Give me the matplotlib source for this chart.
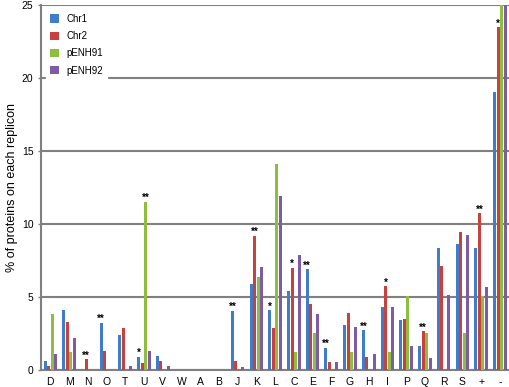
import numpy as np
import matplotlib
matplotlib.use('Agg')
import matplotlib.pyplot as plt

plt.rcParams['font.family'] = ['Liberation Sans', 'DejaVu Sans']

categories = ['D', 'M', 'N', 'O', 'T', 'U', 'V', 'W', 'A', 'B', 'J', 'K', 'L',
              'C', 'E', 'F', 'G', 'H', 'I', 'P', 'Q', 'R', 'S', '+', '-']
series_names = ['Chr1', 'Chr2', 'pENH91', 'pENH92']
chr1 = [0.62, 4.1, 0.0, 3.24, 2.37, 0.91, 0.98, 0, 0, 0, 4.06, 5.87, 4.1,
        5.41, 6.9, 1.53, 3.08, 2.74, 4.34, 3.42, 1.64, 8.33, 8.63, 8.38, 19.07]
chr2 = [0.27, 3.26, 0.73, 1.3, 2.85, 0.46, 0.64, 0, 0, 0, 0.64, 9.2, 2.85,
        7.0, 4.5, 0.52, 3.93, 0.87, 5.75, 3.49, 2.67, 7.15, 9.47, 10.73, 23.5]
penh91 = [3.84, 1.26, 0, 0, 0, 11.53, 0, 0, 0, 0, 0, 6.39, 14.1,
          1.26, 2.56, 0, 1.26, 0, 1.26, 5.09, 2.56, 0, 2.56, 5.09, 25.0]
penh92 = [1.07, 2.17, 0, 0, 0.27, 1.32, 0.27, 0, 0, 0, 0.23, 7.08, 11.94,
          7.88, 3.81, 0.52, 2.97, 1.1, 4.34, 1.64, 0.8, 5.14, 9.25, 5.71, 25.0]
# significance marks: (category, series index, text)
marks = [('N', 1, '**'), ('O', 0, '**'), ('U', 0, '*'), ('U', 2, '**'),
         ('J', 0, '**'), ('K', 1, '**'), ('L', 0, '*'), ('C', 1, '*'),
         ('E', 0, '**'), ('F', 0, '**'), ('H', 0, '**'), ('I', 1, '*'),
         ('Q', 1, '**'), ('+', 1, '**'), ('-', 1, '*')]

colors = ['#3F7DCB', '#C9413D', '#8DBE3F', '#7D5BA6']

fig = plt.figure(figsize=(5.1, 3.87), dpi=100)
ax = fig.add_axes([0.0804, 0.0439, 0.918, 0.943])

x = np.arange(len(categories))
step = 0.19
width = 0.16
data = [chr1, chr2, penh91, penh92]
for i, (vals, name, c) in enumerate(zip(data, series_names, colors)):
    ax.bar(x + (i - 1.5) * step, vals, width, color=c, label=name, zorder=3)

for cat, si, txt in marks:
    ci = categories.index(cat)
    ax.text(ci + (si - 1.5) * step, data[si][ci] - 0.1, txt, ha='center',
            va='bottom', fontsize=7, fontweight='bold', zorder=4)

ax.set_xlim(-0.5, len(categories) - 0.5)
ax.set_ylim(0, 25)
ax.set_yticks([0, 5, 10, 15, 20, 25])
ax.set_xticks(x)
ax.set_xticklabels(categories, fontsize=7.5)
ax.tick_params(axis='y', labelsize=7.5, length=2.5, width=1, color='#808080', pad=3)
ax.tick_params(axis='x', length=0, pad=5)
ax.grid(axis='y', color='#808080', linewidth=1.5, zorder=0)
for s in ['right', 'top']:
    ax.spines[s].set_visible(False)
ax.spines['left'].set_color('#808080')
ax.spines['left'].set_linewidth(1.5)
ax.spines['bottom'].set_color('#808080')
ax.spines['bottom'].set_linewidth(1.5)
ax.set_ylabel('% of proteins on each replicon', fontsize=9, labelpad=3)

leg = ax.legend(loc='upper left', fontsize=7, frameon=True, handlelength=0.9,
                handleheight=0.9, labelspacing=0.75, borderaxespad=0.5,
                edgecolor='white', framealpha=1, fancybox=False)
leg.set_zorder(5)

plt.savefig('out.png', dpi=100)
